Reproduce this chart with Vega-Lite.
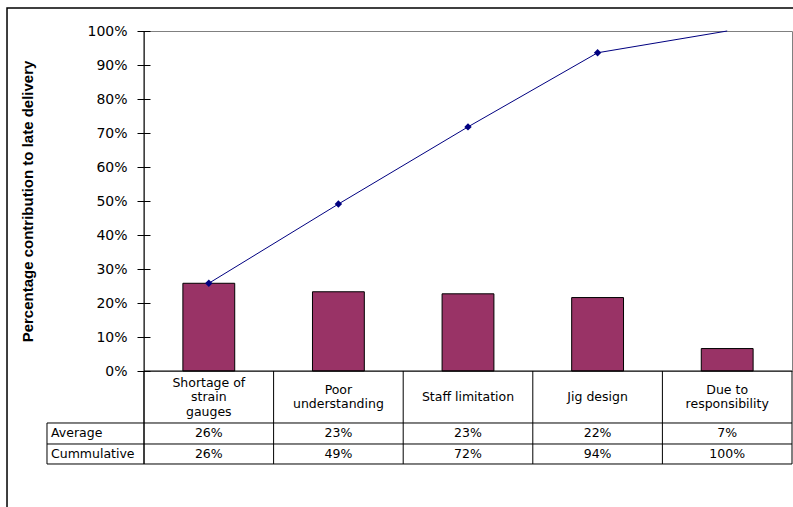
{
  "$schema": "https://vega.github.io/schema/vega-lite/v6.json",
  "width": 648,
  "height": 340,
  "autosize": {"type": "none"},
  "padding": {"left": 144, "top": 31, "right": 1, "bottom": 136},
  "background": "white",
  "config": {"view": {"stroke": "#808080", "strokeWidth": 1}, "font": "DejaVu Sans"},
  "data": {"values": [
    {"cause": "Shortage of strain gauges", "label": "Shortage of\nstrain\ngauges", "avg": 0.258, "cum": 0.258},
    {"cause": "Poor understanding", "label": "Poor\nunderstanding", "avg": 0.233, "cum": 0.491},
    {"cause": "Staff limitation", "label": "Staff limitation", "avg": 0.227, "cum": 0.718},
    {"cause": "Jig design", "label": "Jig design", "avg": 0.216, "cum": 0.936},
    {"cause": "Due to responsibility", "label": "Due to\nresponsibility", "avg": 0.066, "cum": 1.0}
  ]},
  "resolve": {"scale": {"x": "independent"}, "axis": {"x": "independent", "y": "independent"}},
  "layer": [
    {
      "data": {"values": [{}]},
      "mark": {"type": "rect", "filled": false, "stroke": "black", "strokeWidth": 1.5},
      "encoding": {
        "x": {"datum": -1.057, "type": "quantitative", "scale": {"domain": [0, 5], "nice": false, "zero": false}, "axis": null},
        "x2": {"datum": 5.3},
        "y": {"datum": 1.0676, "type": "quantitative", "scale": {"domain": [0, 1], "nice": false}, "axis": null},
        "y2": {"datum": -0.6}
      }
    },
    {
      "mark": {"type": "bar", "width": {"band": 0.4}, "fill": "#993366", "stroke": "black", "strokeWidth": 1},
      "encoding": {
        "x": {"field": "cause", "type": "nominal", "sort": null, "scale": {"paddingInner": 0, "paddingOuter": 0}, "axis": null},
        "y": {
          "field": "avg", "type": "quantitative",
          "scale": {"domain": [0, 1], "nice": false},
          "axis": {
            "values": [0, 0.1, 0.2, 0.3, 0.4, 0.5, 0.6, 0.7, 0.8, 0.9, 1],
            "format": ".0%",
            "offset": -6,
            "ticks": true,
            "tickSize": 13,
            "tickWidth": 1,
            "tickColor": "black",
            "domain": false,
            "grid": false,
            "labelOverlap": false,
            "labelFont": "DejaVu Sans",
            "labelFontSize": 14,
            "labelColor": "black",
            "labelPadding": 10,
            "title": "Percentage contribution to late delivery",
            "titleFont": "Liberation Sans",
            "titleFontSize": 15,
            "titleFontWeight": "bold",
            "titleColor": "black",
            "titlePadding": 51
          }
        }
      }
    },
    {
      "mark": {"type": "line", "color": "#000080", "strokeWidth": 1},
      "encoding": {
        "x": {"field": "cause", "type": "nominal", "sort": null, "scale": {"paddingInner": 0, "paddingOuter": 0}, "axis": null},
        "y": {"field": "cum", "type": "quantitative", "scale": {"domain": [0, 1], "nice": false}, "axis": null}
      }
    },
    {
      "transform": [{"filter": "datum.cum < 1"}],
      "mark": {"type": "point", "shape": "diamond", "filled": true, "size": 55, "color": "#000080", "opacity": 1},
      "encoding": {
        "x": {"field": "cause", "type": "nominal", "sort": null, "scale": {"domain": ["Shortage of strain gauges", "Poor understanding", "Staff limitation", "Jig design", "Due to responsibility"], "paddingInner": 0, "paddingOuter": 0}, "axis": null},
        "y": {"field": "cum", "type": "quantitative", "scale": {"domain": [0, 1], "nice": false}, "axis": null}
      }
    },
    {
      "data": {"values": [{}]},
      "mark": {"type": "rule", "color": "black", "strokeWidth": 1},
      "encoding": {
        "x": {"datum": 0, "type": "quantitative", "scale": {"domain": [0, 5], "nice": false, "zero": false}, "axis": null},
        "y": {"datum": 1, "type": "quantitative", "scale": {"domain": [0, 1], "nice": false}, "axis": null},
        "y2": {"datum": -0.2735}
      }
    },
    {
      "data": {"values": [{}]},
      "mark": {"type": "rule", "color": "black", "strokeWidth": 1},
      "encoding": {
        "x": {"datum": 5, "type": "quantitative", "scale": {"domain": [0, 5], "nice": false, "zero": false}, "axis": null},
        "y": {"datum": 0, "type": "quantitative", "scale": {"domain": [0, 1], "nice": false}, "axis": null},
        "y2": {"datum": -0.2735}
      }
    },
    {
      "data": {"values": [{}]},
      "mark": {"type": "rule", "color": "black", "strokeWidth": 1},
      "encoding": {
        "x": {"datum": -0.7485, "type": "quantitative", "scale": {"domain": [0, 5], "nice": false, "zero": false}, "axis": null},
        "y": {"datum": -0.1529, "type": "quantitative", "scale": {"domain": [0, 1], "nice": false}, "axis": null},
        "y2": {"datum": -0.2735}
      }
    },
    {
      "mark": {"type": "rule", "color": "black", "strokeWidth": 1},
      "encoding": {
        "x": {"field": "cause", "type": "nominal", "sort": null, "bandPosition": 0, "scale": {"paddingInner": 0, "paddingOuter": 0}, "axis": null},
        "y": {"datum": 0, "type": "quantitative", "scale": {"domain": [0, 1], "nice": false}, "axis": null},
        "y2": {"datum": -0.2735}
      }
    },
    {
      "data": {"values": [{}]},
      "mark": {"type": "rule", "color": "black", "strokeWidth": 1},
      "encoding": {
        "x": {"datum": 0, "type": "quantitative", "scale": {"domain": [0, 5], "nice": false, "zero": false}, "axis": null},
        "x2": {"datum": 5},
        "y": {"datum": 0, "type": "quantitative", "scale": {"domain": [0, 1], "nice": false}, "axis": null}
      }
    },
    {
      "data": {"values": [{}]},
      "mark": {"type": "rule", "color": "black", "strokeWidth": 1},
      "encoding": {
        "x": {"datum": -0.7485, "type": "quantitative", "scale": {"domain": [0, 5], "nice": false, "zero": false}, "axis": null},
        "x2": {"datum": 5},
        "y": {"datum": -0.1529, "type": "quantitative", "scale": {"domain": [0, 1], "nice": false}, "axis": null}
      }
    },
    {
      "data": {"values": [{}]},
      "mark": {"type": "rule", "color": "black", "strokeWidth": 1},
      "encoding": {
        "x": {"datum": -0.7485, "type": "quantitative", "scale": {"domain": [0, 5], "nice": false, "zero": false}, "axis": null},
        "x2": {"datum": 5},
        "y": {"datum": -0.2147, "type": "quantitative", "scale": {"domain": [0, 1], "nice": false}, "axis": null}
      }
    },
    {
      "data": {"values": [{}]},
      "mark": {"type": "rule", "color": "black", "strokeWidth": 1},
      "encoding": {
        "x": {"datum": -0.7485, "type": "quantitative", "scale": {"domain": [0, 5], "nice": false, "zero": false}, "axis": null},
        "x2": {"datum": 5},
        "y": {"datum": -0.2735, "type": "quantitative", "scale": {"domain": [0, 1], "nice": false}, "axis": null}
      }
    },
    {
      "transform": [{"filter": "length(split(datum.label, '\\n')) == 1"}],
      "mark": {"type": "text", "font": "DejaVu Sans", "fontSize": 12.5, "color": "black", "align": "center", "baseline": "middle", "dy": 26},
      "encoding": {
        "x": {"field": "cause", "type": "nominal", "sort": null, "scale": {"domain": ["Shortage of strain gauges", "Poor understanding", "Staff limitation", "Jig design", "Due to responsibility"], "paddingInner": 0, "paddingOuter": 0}, "axis": null},
        "y": {"datum": 0, "type": "quantitative", "scale": {"domain": [0, 1], "nice": false}, "axis": null},
        "text": {"field": "label"}
      }
    },
    {
      "transform": [{"filter": "length(split(datum.label, '\\n')) == 2"}],
      "mark": {"type": "text", "font": "DejaVu Sans", "fontSize": 12.5, "color": "black", "align": "center", "baseline": "middle", "lineBreak": "\n", "lineHeight": 14.5, "dy": 18.75},
      "encoding": {
        "x": {"field": "cause", "type": "nominal", "sort": null, "scale": {"domain": ["Shortage of strain gauges", "Poor understanding", "Staff limitation", "Jig design", "Due to responsibility"], "paddingInner": 0, "paddingOuter": 0}, "axis": null},
        "y": {"datum": 0, "type": "quantitative", "scale": {"domain": [0, 1], "nice": false}, "axis": null},
        "text": {"field": "label"}
      }
    },
    {
      "transform": [{"filter": "length(split(datum.label, '\\n')) == 3"}],
      "mark": {"type": "text", "font": "DejaVu Sans", "fontSize": 12.5, "color": "black", "align": "center", "baseline": "middle", "lineBreak": "\n", "lineHeight": 14.5, "dy": 11.5},
      "encoding": {
        "x": {"field": "cause", "type": "nominal", "sort": null, "scale": {"domain": ["Shortage of strain gauges", "Poor understanding", "Staff limitation", "Jig design", "Due to responsibility"], "paddingInner": 0, "paddingOuter": 0}, "axis": null},
        "y": {"datum": 0, "type": "quantitative", "scale": {"domain": [0, 1], "nice": false}, "axis": null},
        "text": {"field": "label"}
      }
    },
    {
      "mark": {"type": "text", "font": "DejaVu Sans", "fontSize": 12.5, "color": "black", "align": "center", "baseline": "middle"},
      "encoding": {
        "x": {"field": "cause", "type": "nominal", "sort": null, "scale": {"paddingInner": 0, "paddingOuter": 0}, "axis": null},
        "y": {"datum": -0.1838, "type": "quantitative", "scale": {"domain": [0, 1], "nice": false}, "axis": null},
        "text": {"field": "avg", "type": "quantitative", "format": ".0%"}
      }
    },
    {
      "mark": {"type": "text", "font": "DejaVu Sans", "fontSize": 12.5, "color": "black", "align": "center", "baseline": "middle"},
      "encoding": {
        "x": {"field": "cause", "type": "nominal", "sort": null, "scale": {"paddingInner": 0, "paddingOuter": 0}, "axis": null},
        "y": {"datum": -0.2441, "type": "quantitative", "scale": {"domain": [0, 1], "nice": false}, "axis": null},
        "text": {"field": "cum", "type": "quantitative", "format": ".0%"}
      }
    },
    {
      "data": {"values": [{"row": "Average"}]},
      "mark": {"type": "text", "font": "DejaVu Sans", "fontSize": 12.5, "color": "black", "align": "left", "baseline": "middle"},
      "encoding": {
        "x": {"datum": -0.7176, "type": "quantitative", "scale": {"domain": [0, 5], "nice": false, "zero": false}, "axis": null},
        "y": {"datum": -0.1838, "type": "quantitative", "scale": {"domain": [0, 1], "nice": false}, "axis": null},
        "text": {"field": "row"}
      }
    },
    {
      "data": {"values": [{"row": "Cummulative"}]},
      "mark": {"type": "text", "font": "DejaVu Sans", "fontSize": 12.5, "color": "black", "align": "left", "baseline": "middle"},
      "encoding": {
        "x": {"datum": -0.7176, "type": "quantitative", "scale": {"domain": [0, 5], "nice": false, "zero": false}, "axis": null},
        "y": {"datum": -0.2441, "type": "quantitative", "scale": {"domain": [0, 1], "nice": false}, "axis": null},
        "text": {"field": "row"}
      }
    }
  ]
}
